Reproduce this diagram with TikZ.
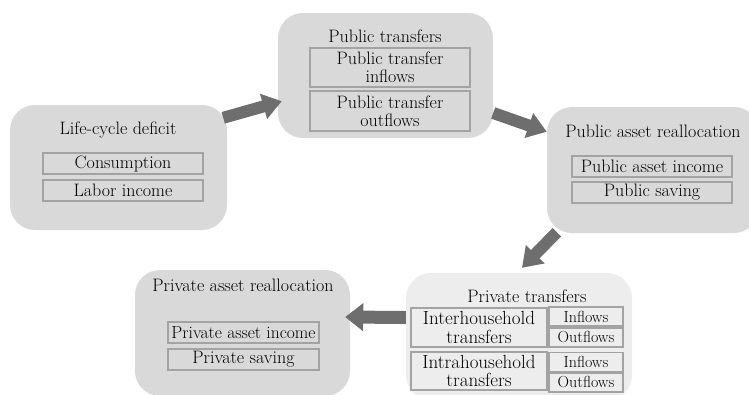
\documentclass[tikz,border=0pt]{standalone}
\usepackage{fontspec}
\usetikzlibrary{arrows.meta, calc}
\definecolor{boxgray}{HTML}{D9D9D9}
\definecolor{lightbox}{HTML}{EDEDED}
\definecolor{linegray}{HTML}{A3A3A3}
\definecolor{arrowgray}{HTML}{6E6E6E}

\begin{document}
\begin{tikzpicture}[x=1pt, y=-1pt, font=\fontsize{18}{17.5}\selectfont]
\tikzset{group/.style={fill=boxgray, rounded corners=25pt, inner sep=0, minimum width=215pt, minimum height=125pt}, item/.style={draw=linegray, line width=1.5pt, inner sep=0, minimum width=160pt, minimum height=21pt, align=center}, small/.style={item, minimum width=74pt, minimum height=19pt, font=\fontsize{16}{16}\selectfont}, flow/.style={line width=12pt, draw=arrowgray, -{Triangle[length=19pt, width=25pt]}}}
\useasboundingbox (0,0) rectangle (749,394);
% groups
\node[group, minimum width=217pt] (LC) at (118.5,167.5) {};
\node[group] (PT) at (385.5,75.5) {};
\node[group, minimum width=212pt, minimum height=126pt] (PAR) at (653,170) {};
\node[group, fill=lightbox, minimum width=226pt, minimum height=127pt] (PrT) at (519,336.5) {};
\node[group, minimum height=126pt] (PrAR) at (242.5,333) {};
% titles
\node (LCt) at (118,130) {Life-cycle deficit};
\node (PTt) at (385,36) {Public transfers};
\node (PARt) at (653,131) {Public asset reallocation};
\node (PrTt) at (527,296) {Private transfers};
\node (PrARt) at (243,285) {Private asset reallocation};
% items
\node[item] (cons) at (123,163.5) {Consumption};
\node[item] (labor) at (123,190.5) {Labor income};
\node[item, minimum height=39pt] (ptin) at (390,67.5) {Public transfer\\inflows};
\node[item, minimum height=40pt] (ptout) at (390,111) {Public transfer\\outflows};
\node[item] (painc) at (652,166.5) {Public asset income};
\node[item] (psav) at (652,192.5) {Public saving};
\node[item, minimum width=151pt, font=\fontsize{17.5}{17}\selectfont] (princ) at (243.5,332.5) {Private asset income};
\node[item, minimum width=151pt] (prsav) at (243.5,359.5) {Private saving};
\node[item, minimum width=136pt, minimum height=39pt, font=\fontsize{19}{18.5}\selectfont] (inter) at (479,327.5) {Interhousehold\\transfers};
\node[small] (interin) at (586,316.5) {Inflows};
\node[small] (interout) at (586,337.5) {Outflows};
\node[item, minimum width=136pt, minimum height=38pt, font=\fontsize{19}{18.5}\selectfont] (intra) at (479,371) {Intrahousehold\\transfers};
\node[small] (intrain) at (586,362) {Inflows};
\node[small] (intraout) at (586,382.5) {Outflows};
% arrows
\draw[flow] ($(LC.north east)+(-4,13)$) -- ($(PT.south west)+(4,-37)$);
\draw[flow] ($(PT.east)+(0,37.5)$) -- ($(PAR.north west)+(0,25)$);
\draw[flow] ($(PAR.south west)+(10,-1)$) -- ($(PrT.north)+(3,-5)$);
\draw[flow, line width=13pt, -{Triangle[length=18pt, width=27pt]}] ($(PrT.west)+(0,-19)$) -- ($(PrAR.east)+(-5,-16)$);
\end{tikzpicture}
\end{document}
